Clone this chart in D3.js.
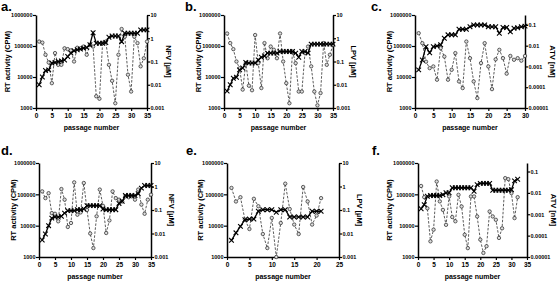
<!DOCTYPE html>
<html>
<head>
<meta charset="utf-8">
<script src="https://cdn.jsdelivr.net/npm/d3@7"></script>
<style>
  body { margin: 0; background: #fff; }
  svg { display: block; font-family: "Liberation Sans", Arial, sans-serif; font-weight: bold; }
</style>
</head>
<body>
<div id="chart"></div>
<script>
// RT activity (CPM) per passage
const rtA = [5600,10000,16200,17000,28200,29500,31600,33100,35500,45700,58900,70800,75900,79400,85100,89100,110000,269000,123000,123000,123000,129000,191000,209000,209000,209000,138000,257000,257000,257000,257000,257000,331000,331000,331000];
const rtB = [3500,5600,9100,9800,17000,19500,29500,28200,28200,28200,35500,43600,47900,58900,58900,58900,58900,66100,66100,66100,66100,66100,58900,43600,66100,66100,58900,115000,115000,115000,115000,115000,115000,115000,115000];
const rtC = [17000,35500,95500,60300,95500,100000,110000,178000,229000,229000,229000,347000,347000,347000,417000,479000,479000,479000,479000,417000,417000,417000,257000,398000,398000,288000,372000,389000,417000,437000];
const rtD = [3500,5400,10000,17400,19000,19000,20000,25100,30200,30200,30200,32400,32400,33900,43600,43600,43600,43600,43600,33900,32400,32400,32400,32400,51300,60300,91200,91200,91200,91200,105000,158000,191000,191000,191000];
const rtE = [3400,5900,9500,15500,16200,16200,28800,32400,32400,32400,26900,32400,32400,19000,19000,19000,19000,19000,28800,28800,28800];
const rtF = [34700,46800,87100,91200,91200,91200,91200,97700,112000,112000,162000,162000,162000,162000,162000,162000,162000,126000,204000,224000,224000,224000,224000,135000,135000,135000,135000,135000,135000,141000,269000,302000];

// drug concentration (µM / nM) per passage
const drugA = [0.72,0.65,0.195,0.091,0.0117,0.23,0.072,0.072,0.37,0.34,0.30,0.1,0.39,0.37,0.44,0.195,0.51,0.44,0.0032,0.0025,0.62,0.72,0.072,0.0148,0.0016,0.195,2.5,1.17,0.027,0.0051,1.17,0.62,0.062,0.138,0.72];
const drugB = [1.6,0.62,0.34,0.1,0.051,0.0062,0.085,0.0091,0.0058,1.38,0.085,0.0072,0.62,0.138,0.44,0.32,0.138,1.6,0.1,0.0117,0.0016,0.27,0.085,0.0051,0.0051,0.23,0.44,0.062,0.0051,0.0013,0.0044,0.62,0.072,0.195,0.51];
const drugC = [0.04,0.0132,0.0017,0.00083,0.001,0.00023,0.0076,0.003,0.00023,0.00069,0.0044,0.00019,0.000091,0.0158,0.0025,0.00019,0.00003,0.00145,0.0132,0.001,0.000081,0.0022,0.0063,0.0025,0.00045,0.0032,0.0021,0.0025,0.0019,0.0032];
const drugD = [0.62,0.32,0.52,0.074,0.069,0.033,0.78,0.275,0.019,0.028,1.5,0.063,0.079,1.41,0.1,0.01,0.0024,0.054,0.74,0.15,0.0105,0.036,0.62,0.32,0.275,0.23,0.38,0.35,0.38,0.275,0.74,0.17,0.069,0.275,0.45];
const drugE = [0.87,0.23,0.35,0.039,0.0155,0.3,0.145,0.0095,0.0024,0.046,0.001,0.028,1.32,0.11,0.024,0.0095,0.95,0.23,0.024,0.058,0.32];
const drugF = [0.021,0.0063,0.0019,0.000054,0.00019,0.034,0.004,0.0016,0.00032,0.0068,0.00074,0.00047,0.0081,0.0023,0.00011,0.000026,0.0068,0.0068,0.00079,0.000065,0.0000155,0.000032,0.00135,0.00079,0.00055,0.000078,0.00022,0.049,0.044,0.0098,0.00066,0.0063];

const panelLetters = ["a.","b.","c.","d.","e.","f."];
const drugNames = ["NFV [µM]","LPV [µM]","ATV [nM]","NFV [µM]","LPV [µM]","ATV [nM]"];
const xMax = [35,35,30,35,25,35];
const rtTicks = [1000,10000,100000,1000000];
const drugTicksUM = [0.001,0.01,0.1,1,10];
const drugTicksNM = [0.00001,0.0001,0.001,0.01,0.1];
const drugTickLabelsNM = ["0.00001","0.0001","0.001","0.01","0.1"];

const width = 560, height = 281;
const svg = d3.select("#chart").append("svg")
    .attr("width", width)
    .attr("height", height);

// plot boxes (left axis x, right axis x, top, bottom) and label spots
const boxes = [
  {x0: 36,  x1: 147, top: 15,  bottom: 108, lx: 1,   ly: 11,  tY: 7,   tR: 169},
  {x0: 224, x1: 333, top: 15,  bottom: 108, lx: 185, ly: 11,  tY: 198, tR: 354},
  {x0: 415, x1: 525, top: 15,  bottom: 108, lx: 371, ly: 11,  tY: 389, tR: 553},
  {x0: 39,  x1: 151, top: 163, bottom: 257, lx: 1,   ly: 155, tY: 13,  tR: 172},
  {x0: 227, x1: 339, top: 163, bottom: 257, lx: 186, ly: 155, tY: 200, tR: 360},
  {x0: 418, x1: 527, top: 163, bottom: 257, lx: 372, ly: 155, tY: 389, tR: 554}
];
const rtData = [rtA, rtB, rtC, rtD, rtE, rtF];
const drugData = [drugA, drugB, drugC, drugD, drugE, drugF];
const drugTop = [10, 10, 0.3, 10, 10, 0.25];

boxes.forEach((b, i) => {
  const nm = i === 2 || i === 5;
  const x = d3.scaleLinear().domain([0, xMax[i]]).range([b.x0, b.x1]);
  const yL = d3.scaleLog().domain([1000, 1000000]).range([b.bottom, b.top]);
  const yR = d3.scaleLog().domain([nm ? 0.00001 : 0.001, drugTop[i]]).range([b.bottom, b.top]);
  const g = svg.append("g");

  // axes
  const ax = g.append("g").attr("transform", `translate(0,${b.bottom})`)
    .call(d3.axisBottom(x).tickValues(d3.range(0, xMax[i] + 1, 5)).tickSize(3).tickSizeOuter(0).tickFormat(d3.format("d")));
  const ayl = g.append("g").attr("transform", `translate(${b.x0},0)`)
    .call(d3.axisLeft(yL).tickValues(rtTicks).tickSize(3).tickSizeOuter(0).tickFormat(d3.format("d")));
  const ayr = g.append("g").attr("transform", `translate(${b.x1},0)`)
    .call(d3.axisRight(yR).tickValues(nm ? drugTicksNM : drugTicksUM).tickSize(3).tickSizeOuter(0)
      .tickFormat((d, k) => nm ? drugTickLabelsNM[k] : String(d)));
  [ax, ayl, ayr].forEach(a => {
    a.select(".domain").attr("stroke-width", 1.5);
    a.selectAll(".tick line").attr("stroke-width", 1.2);
    a.selectAll("text").attr("font-size", 5.5).attr("font-weight", "bold")
      .attr("font-family", "Liberation Sans, Arial, sans-serif");
  });
  ax.selectAll("text").attr("dy", "0.9em").attr("y", 4).attr("font-size", 6.5);
  ayl.selectAll("text").attr("x", -3.5);
  ayr.selectAll("text").attr("x", 3.5);

  // drug (dashed, open circles)
  const drugPts = drugData[i].map((v, k) => [k + 1, v]);
  g.append("path")
    .attr("d", d3.line().x(d => x(d[0])).y(d => yR(d[1]))(drugPts))
    .attr("fill", "none").attr("stroke", "#333").attr("stroke-width", 0.8)
    .attr("stroke-dasharray", "2.5,1.5");
  g.selectAll(".dc").data(drugPts).enter().append("circle")
    .attr("cx", d => x(d[0])).attr("cy", d => yR(d[1])).attr("r", 1.7)
    .attr("fill", "#ddd").attr("stroke", "#222").attr("stroke-width", 0.7);

  // RT activity (solid, crosses)
  const rtPts = rtData[i].map((v, k) => [k + 1, v]);
  g.append("path")
    .attr("d", d3.line().x(d => x(d[0])).y(d => yL(d[1]))(rtPts))
    .attr("fill", "none").attr("stroke", "#000").attr("stroke-width", 1.3);
  const cross = d3.symbol().type(d3.symbolX).size(16);
  g.selectAll(".rc").data(rtPts).enter().append("path")
    .attr("transform", d => `translate(${x(d[0])},${yL(d[1])})`)
    .attr("d", cross).attr("fill", "none").attr("stroke", "#000").attr("stroke-width", 1.1);

  // labels
  svg.append("text").attr("x", b.lx).attr("y", b.ly)
    .attr("font-size", 13).text(panelLetters[i]);
  svg.append("text")
    .attr("transform", `translate(${b.tY},${(b.top + b.bottom) / 2}) rotate(-90)`)
    .attr("text-anchor", "middle").attr("dy", "0.35em").attr("font-size", 7.5)
    .text("RT activity (CPM)");
  svg.append("text")
    .attr("transform", `translate(${b.tR},${(b.top + b.bottom) / 2}) rotate(90)`)
    .attr("text-anchor", "middle").attr("dy", "0.35em").attr("font-size", 7.5)
    .text(drugNames[i]);
  svg.append("text")
    .attr("x", (b.x0 + b.x1) / 2).attr("y", b.bottom + 22)
    .attr("text-anchor", "middle").attr("font-size", 7)
    .text("passage number");
});
</script>
</body>
</html>
